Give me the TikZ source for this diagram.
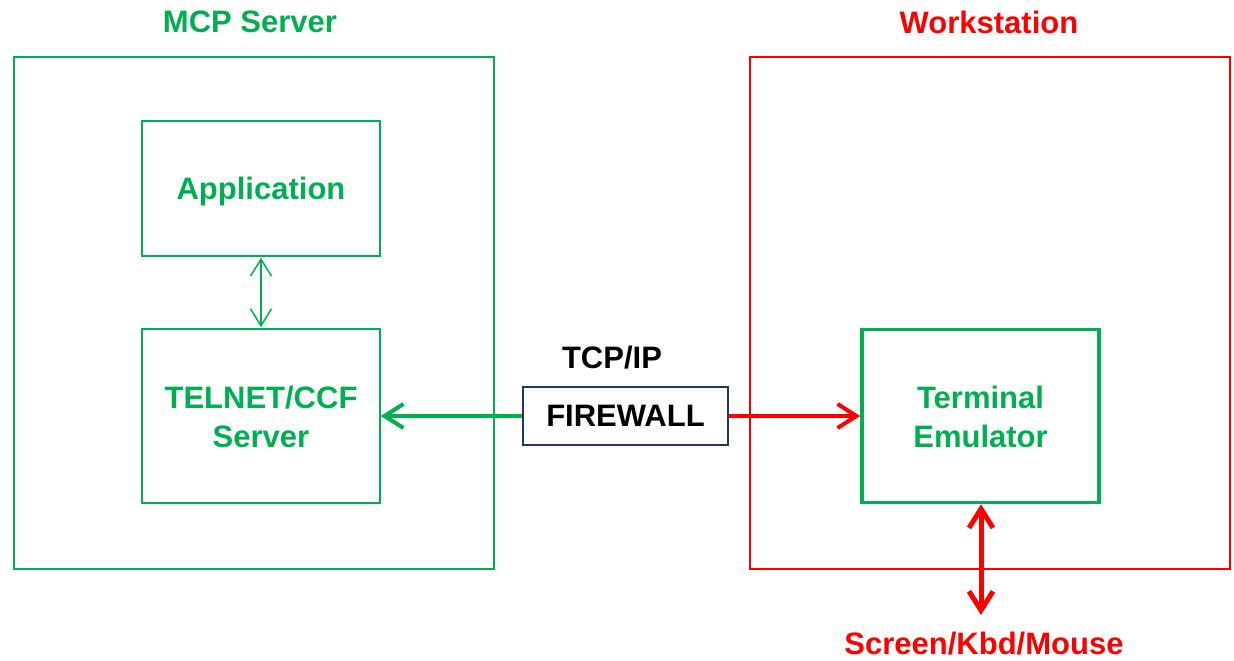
\documentclass[tikz,border=0pt]{standalone}
\usepackage{fontspec}
\setmainfont{Liberation Sans}
\usetikzlibrary{arrows.meta}
\definecolor{grn}{HTML}{00B050}
\definecolor{rd}{HTML}{FF0000}
\definecolor{nvy}{HTML}{1F3864}
\begin{document}
\begin{tikzpicture}[x=1pt,y=-1pt,
  lbl/.style={font=\fontsize{31}{39}\selectfont\bfseries, align=center, inner sep=0pt},
  outerbox/.style={draw, line width=2pt},
  innerbox/.style={draw=grn, line width=1.5pt},
  barb/.style={-{Straight Barb[length=19pt,width=24pt]}},
  sdbarb/.style={{Straight Barb[length=17pt,width=21pt]}-{Straight Barb[length=17pt,width=21pt]}},
  dbarb/.style={{Straight Barb[length=19pt,width=24pt]}-{Straight Barb[length=19pt,width=24pt]}}
]
\useasboundingbox (0,0) rectangle (1234,661);
% outer boxes
\draw[outerbox, draw=grn] (14,57) rectangle (494,569);
\draw[outerbox, draw=rd] (750,57) rectangle (1230,569);
\node[lbl, text=grn] (mcpt) at (250,22) {MCP Server};
\node[lbl, text=rd] (wst) at (989,22) {Workstation};
% inner nodes
\node[innerbox, minimum width=238pt, minimum height=135pt, inner sep=0pt] (app) at (261,188.5) {};
\node[lbl, text=grn] at ([yshift=-3pt]app.center) {Application};
\node[innerbox, minimum width=238pt, minimum height=174pt, inner sep=0pt] (tel) at (261,416) {};
\node[lbl, text=grn] at ([yshift=-1pt]tel.center) {TELNET/CCF\\Server};
\node[draw=grn, line width=3.5pt, minimum width=237pt, minimum height=173pt, inner sep=0pt] (term) at (980.5,416) {};
\node[lbl, text=grn] at ([yshift=-1pt]term.center) {Terminal\\Emulator};
\node[draw=nvy, line width=1.5pt, minimum width=205pt, minimum height=58pt, inner sep=0pt] (fw) at (625.5,416) {};
\node[lbl] at (fw.center) {FIREWALL};
\node[lbl] (tcp) at (612,358) {TCP/IP};
\node[lbl, text=rd] (scr) at (984,644) {Screen/Kbd/Mouse};
\coordinate (scrtop) at (981,615);
% connectors
\draw[sdbarb, grn, line width=1.5pt, shorten <=1pt, shorten >=1pt] (app.south) -- (tel.north);
\draw[barb, grn, line width=4pt] (fw.west) -- (tel.east);
\draw[barb, rd, line width=4pt] (fw.east) -- (term.west);
\draw[dbarb, rd, line width=5pt] (term.south -| scrtop) -- (scrtop);
\end{tikzpicture}
\end{document}
